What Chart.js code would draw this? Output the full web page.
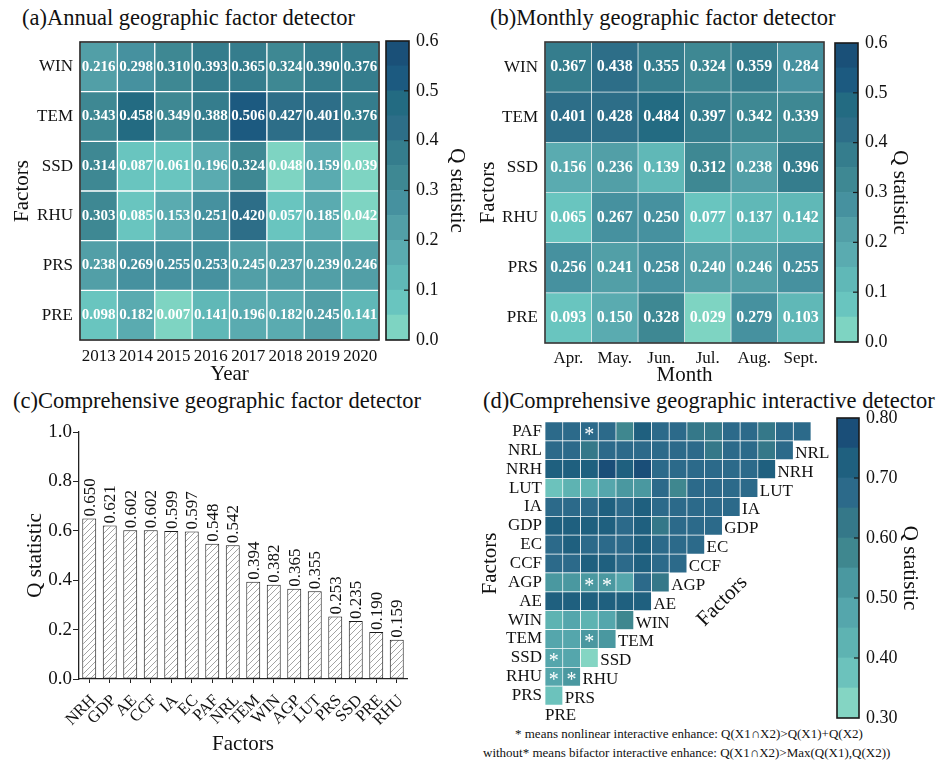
<!DOCTYPE html>
<html>
<head>
<meta charset="utf-8">
<script src="https://cdn.jsdelivr.net/npm/chart.js@4.4.1/dist/chart.umd.min.js"></script>
<style>
  body { margin: 0; background: #fff; }
  #wrap { position: relative; width: 945px; height: 762px; overflow: hidden; background: #fff;
          font-family: 'Liberation Serif', 'Times New Roman', serif; color: #111; }
  canvas { position: absolute; }
  .ttl { position: absolute; font-size: 22.5px; line-height: 1; white-space: nowrap; }
  .note { position: absolute; font-size: 13px; line-height: 1; white-space: nowrap; }
</style>
</head>
<body>
<div id="wrap">
  <div class="ttl" style="left:22px;top:7px">(a)Annual geographic factor detector</div>
  <div class="ttl" style="left:490px;top:7px">(b)Monthly geographic factor detector</div>
  <div class="ttl" style="left:13px;top:390px">(c)Comprehensive geographic factor detector</div>
  <div class="ttl" style="left:483px;top:390px">(d)Comprehensive geographic interactive detector</div>
  <div class="note" style="left:515px;top:727px">* means nonlinear interactive enhance: Q(X1∩X2)&gt;Q(X1)+Q(X2)</div>
  <div class="note" style="left:483px;top:746px">without* means bifactor interactive enhance: Q(X1∩X2)&gt;Max(Q(X1),Q(X2))</div>

  <canvas id="annualChart" style="left:0;top:30px" width="385" height="360"></canvas>
  <canvas id="annualBar" style="left:380px;top:30px" width="90" height="330"></canvas>
  <canvas id="monthlyChart" style="left:470px;top:30px" width="360" height="360"></canvas>
  <canvas id="monthlyBar" style="left:829px;top:30px" width="90" height="330"></canvas>
  <canvas id="overallChart" style="left:0;top:415px" width="470" height="347"></canvas>
  <canvas id="interChart" style="left:470px;top:400px" width="365" height="325"></canvas>
  <canvas id="interBar" style="left:831px;top:400px" width="100" height="330"></canvas>
</div>

<script>
// ---- data ----
const climateFactors = ['WIN', 'TEM', 'SSD', 'RHU', 'PRS', 'PRE'];
const years = ['2013', '2014', '2015', '2016', '2017', '2018', '2019', '2020'];
const months = ['Apr.', 'May.', 'Jun.', 'Jul.', 'Aug.', 'Sept.'];

// rows follow climateFactors, columns follow years
const annualQ = [
  [0.216, 0.298, 0.310, 0.393, 0.365, 0.324, 0.390, 0.376],
  [0.343, 0.458, 0.349, 0.388, 0.506, 0.427, 0.401, 0.376],
  [0.314, 0.087, 0.061, 0.196, 0.324, 0.048, 0.159, 0.039],
  [0.303, 0.085, 0.153, 0.251, 0.420, 0.057, 0.185, 0.042],
  [0.238, 0.269, 0.255, 0.253, 0.245, 0.237, 0.239, 0.246],
  [0.098, 0.182, 0.007, 0.141, 0.196, 0.182, 0.245, 0.141]
];

// rows follow climateFactors, columns follow months
const monthlyQ = [
  [0.367, 0.438, 0.355, 0.324, 0.359, 0.284],
  [0.401, 0.428, 0.484, 0.397, 0.342, 0.339],
  [0.156, 0.236, 0.139, 0.312, 0.238, 0.396],
  [0.065, 0.267, 0.250, 0.077, 0.137, 0.142],
  [0.256, 0.241, 0.258, 0.240, 0.246, 0.255],
  [0.093, 0.150, 0.328, 0.029, 0.279, 0.103]
];

const overallFactors = ['NRH', 'GDP', 'AE', 'CCF', 'IA', 'EC', 'PAF', 'NRL', 'TEM', 'WIN', 'AGP', 'LUT', 'PRS', 'SSD', 'PRE', 'RHU'];
const overallQ = [0.650, 0.621, 0.602, 0.602, 0.599, 0.597, 0.548, 0.542, 0.394, 0.382, 0.365, 0.355, 0.253, 0.235, 0.190, 0.159];

// interaction triangle: one row per factor, values read against interCols
const interRows = ['PAF', 'NRL', 'NRH', 'LUT', 'IA', 'GDP', 'EC', 'CCF', 'AGP', 'AE', 'WIN', 'TEM', 'SSD', 'RHU', 'PRS'];
const interCols = ['PRE', 'PRS', 'RHU', 'SSD', 'TEM', 'WIN', 'AE', 'AGP', 'CCF', 'EC', 'GDP', 'IA', 'LUT', 'NRH', 'NRL'];
const interQ = [
  [0.68, 0.67, 0.69, 0.68, 0.58, 0.72, 0.67, 0.68, 0.63, 0.62, 0.68, 0.67, 0.62, 0.67, 0.66],
  [0.67, 0.68, 0.63, 0.68, 0.67, 0.68, 0.67, 0.68, 0.67, 0.62, 0.67, 0.68, 0.62, 0.67],
  [0.72, 0.71, 0.72, 0.77, 0.72, 0.78, 0.67, 0.68, 0.67, 0.68, 0.67, 0.68, 0.72],
  [0.38, 0.43, 0.43, 0.46, 0.52, 0.52, 0.67, 0.58, 0.68, 0.67, 0.68, 0.67],
  [0.68, 0.67, 0.68, 0.72, 0.68, 0.72, 0.67, 0.68, 0.67, 0.68, 0.67],
  [0.72, 0.72, 0.72, 0.71, 0.68, 0.72, 0.62, 0.67, 0.68, 0.67],
  [0.68, 0.72, 0.67, 0.68, 0.67, 0.71, 0.68, 0.67, 0.68],
  [0.67, 0.68, 0.72, 0.72, 0.68, 0.72, 0.67, 0.68],
  [0.53, 0.53, 0.53, 0.53, 0.48, 0.67, 0.62],
  [0.72, 0.72, 0.72, 0.72, 0.72, 0.72],
  [0.42, 0.48, 0.44, 0.47, 0.57],
  [0.48, 0.47, 0.52, 0.52],
  [0.48, 0.45, 0.32],
  [0.47, 0.52],
  [0.37]
];
// nonlinear enhancement pairs (row, column)
const interStars = [['PAF', 'RHU'], ['AGP', 'RHU'], ['AGP', 'SSD'], ['TEM', 'RHU'], ['SSD', 'PRE'], ['RHU', 'PRE'], ['RHU', 'PRS']];

const climateRange = [0, 0.6];
const interRange = [0.3, 0.8];

// ---- colours ----
const climateColors = ['#7ed4c2', '#69c5bf', '#60b8b7', '#5aabb0', '#529fa7', '#46919f',
                       '#3e8893', '#357d8d', '#2d6e88', '#236b82', '#1c5a80', '#1a5078'];
const interColors = ['#84d5c3', '#6cc2bc', '#5eb3b2', '#55a6ac', '#4a98a0',
                     '#3f878f', '#357889', '#2c6a8a', '#1f607f', '#1a4e78'];

const serif = "'Liberation Serif', 'Times New Roman', serif";
Chart.defaults.font.family = serif;
Chart.defaults.color = '#111';
Chart.defaults.animation = false;
Chart.defaults.plugins.legend.display = false;
Chart.defaults.plugins.tooltip.enabled = false;

function binColor(v, range, colors) {
  const t = (v - range[0]) / (range[1] - range[0]);
  const k = Math.min(colors.length - 1, Math.max(0, Math.floor(t * colors.length)));
  return colors[k];
}

function noPad(s) {
  s.paddingLeft = 0; s.paddingRight = 0; s.paddingTop = 0; s.paddingBottom = 0;
}

function framePlugin(id, width, color, tickLen) {
  return {
    id: id,
    afterDraw(chart) {
      const {ctx, chartArea: a} = chart;
      ctx.save();
      ctx.strokeStyle = color;
      ctx.lineWidth = width;
      ctx.strokeRect(a.left, a.top, a.right - a.left, a.bottom - a.top);
      if (tickLen) {
        const ys = chart.scales.y;
        ctx.lineWidth = 1.2;
        ys.ticks.forEach(t => {
          const p = ys.getPixelForValue(t.value);
          if (p > a.top + 2 && p < a.bottom - 2) {
            ctx.beginPath();
            ctx.moveTo(a.right - tickLen, p);
            ctx.lineTo(a.right, p);
            ctx.stroke();
          }
        });
      }
      ctx.restore();
    }
  };
}

function cellTextPlugin(font, dy) {
  return {
    id: 'cellText',
    afterDatasetsDraw(chart) {
      const ctx = chart.ctx;
      ctx.save();
      ctx.fillStyle = '#fff';
      ctx.font = font;
      ctx.textAlign = 'center';
      ctx.textBaseline = 'middle';
      chart.data.datasets.forEach((ds, d) => {
        chart.getDatasetMeta(d).data.forEach((el, i) => {
          const v = ds.q[i];
          if (v == null) return;
          const p = el.getProps(['x', 'y', 'base'], true);
          ctx.fillText(v.toFixed(3), (p.x + p.base) / 2, p.y + dy);
        });
      });
      ctx.restore();
    }
  };
}

// heatmap = horizontal stacked bars of unit length, one dataset per column
function heatmap(canvasId, rows, cols, q, cfg) {
  const datasets = cols.map((c, j) => ({
    label: c,
    xAxisID: 'x',
    yAxisID: 'y',
    data: rows.map((r, i) => q[i][j] == null ? null : 1),
    q: rows.map((r, i) => q[i][j] == null ? null : q[i][j]),
    backgroundColor: rows.map((r, i) => q[i][j] == null ? 'rgba(0,0,0,0)' : binColor(q[i][j], cfg.range, cfg.colors)),
    borderColor: cfg.gapColor,
    borderWidth: cfg.gap,
    borderSkipped: false,
    barPercentage: 1,
    categoryPercentage: 1
  }));

  const scales = {
    x: { type: 'linear', stacked: true, min: 0, max: cols.length, display: false, afterFit: noPad },
    y: {
      type: 'category', stacked: true, offset: true,
      grid: { display: false, drawTicks: false },
      border: { display: false },
      ticks: { autoSkip: false, font: { size: cfg.yFont }, padding: cfg.yPad, color: '#111' },
      title: { display: true, text: 'Factors', font: { size: 21 }, padding: { top: cfg.yTitlePad, bottom: 0 } },
      afterFit: s => { noPad(s); s.width = cfg.yWidth; }
    }
  };
  if (cfg.xLabels) {
    scales.x2 = {
      type: 'category', position: 'bottom', labels: cfg.xLabels, offset: true,
      grid: { display: false, drawTicks: false },
      border: { display: false },
      ticks: { autoSkip: false, maxRotation: 0, font: { size: 17 }, padding: cfg.xPad, color: '#111' },
      title: { display: true, text: cfg.xTitle, font: { size: 21 }, padding: { top: 0, bottom: cfg.xTitlePad } },
      afterFit: s => { noPad(s); s.height = cfg.xHeight; }
    };
  }

  return new Chart(document.getElementById(canvasId), {
    type: 'bar',
    data: { labels: rows, datasets: datasets },
    options: {
      responsive: false,
      indexAxis: 'y',
      layout: { padding: cfg.padding },
      scales: scales
    },
    plugins: cfg.plugins
  });
}

function colorbar(canvasId, range, colors, step, digits, cfg) {
  const h = (range[1] - range[0]) / colors.length;
  return new Chart(document.getElementById(canvasId), {
    type: 'bar',
    data: {
      labels: [''],
      datasets: colors.map((c, i) => ({
        data: [[range[0] + i * h, range[0] + (i + 1) * h]],
        backgroundColor: c,
        borderWidth: 0,
        grouped: false,
        barPercentage: 1,
        categoryPercentage: 1
      }))
    },
    options: {
      responsive: false,
      layout: { padding: cfg.padding },
      scales: {
        x: { display: false, afterFit: noPad },
        y: {
          type: 'linear', position: 'right', min: range[0], max: range[1],
          ticks: { stepSize: step, callback: v => v.toFixed(digits), padding: 7, font: { size: 18 }, color: '#111' },
          grid: { display: false, drawTicks: false },
          border: { display: false },
          title: { display: true, text: 'Q statistic', font: { size: 21 }, padding: { top: cfg.titlePad, bottom: 0 } },
          afterFit: s => { noPad(s); s.width = cfg.axisWidth; }
        }
      }
    },
    plugins: [framePlugin('cbFrame', 1.6, '#1a1a1a', 5)]
  });
}

// ---- (a) annual ----
heatmap('annualChart', climateFactors, years, annualQ, {
  range: climateRange, colors: climateColors, gapColor: '#ffffff', gap: 1,
  yFont: 17, yPad: 7, yTitlePad: 10, yWidth: 80,
  xLabels: years, xTitle: 'Year', xPad: 6, xTitlePad: 3, xHeight: 50,
  padding: { left: 0, top: 12, right: 6, bottom: 0 },
  plugins: [cellTextPlugin('bold 15px ' + serif, 0), framePlugin('hmFrame', 1.6, '#222', 0)]
});
colorbar('annualBar', climateRange, climateColors, 0.1, 1, {
  padding: { left: 6, top: 11, right: 0, bottom: 20 }, axisWidth: 61, titlePad: 1
});

// ---- (b) monthly ----
heatmap('monthlyChart', climateFactors, months, monthlyQ, {
  range: climateRange, colors: climateColors, gapColor: '#e3ecee', gap: 0.7,
  yFont: 17, yPad: 7, yTitlePad: 6, yWidth: 75,
  xLabels: months, xTitle: 'Month', xPad: 5, xTitlePad: 2, xHeight: 47,
  padding: { left: 0, top: 12, right: 6, bottom: 0 },
  plugins: [cellTextPlugin('bold 16px ' + serif, 0), framePlugin('hmFrame', 1.6, '#333', 0)]
});
colorbar('monthlyBar', climateRange, climateColors, 0.1, 1, {
  padding: { left: 6, top: 13, right: 0, bottom: 18 }, axisWidth: 61, titlePad: 7
});

// ---- (c) overall factor detector ----
function hatch() {
  const c = document.createElement('canvas');
  c.width = 6; c.height = 6;
  const g = c.getContext('2d');
  g.fillStyle = '#ffffff';
  g.fillRect(0, 0, 6, 6);
  g.strokeStyle = '#8c8c8c';
  g.lineWidth = 0.8;
  g.beginPath();
  g.moveTo(0, 6); g.lineTo(6, 0);
  g.moveTo(-1, 1); g.lineTo(1, -1);
  g.moveTo(5, 7); g.lineTo(7, 5);
  g.stroke();
  return g.createPattern(c, 'repeat');
}

const barValues = {
  id: 'barValues',
  afterDatasetsDraw(chart) {
    const ctx = chart.ctx;
    const vals = chart.data.datasets[0].data;
    ctx.save();
    ctx.font = '17px ' + serif;
    ctx.fillStyle = '#111';
    ctx.textAlign = 'left';
    ctx.textBaseline = 'middle';
    chart.getDatasetMeta(0).data.forEach((el, i) => {
      const p = el.getProps(['x', 'y'], true);
      ctx.save();
      ctx.translate(p.x + 1, p.y - 2);
      ctx.rotate(-Math.PI / 2);
      ctx.fillText(vals[i].toFixed(3), 0, 0);
      ctx.restore();
    });
    ctx.restore();
  }
};

new Chart(document.getElementById('overallChart'), {
  type: 'bar',
  data: {
    labels: overallFactors,
    datasets: [{
      data: overallQ,
      backgroundColor: hatch(),
      borderColor: '#1a1a1a',
      borderWidth: 1,
      borderSkipped: false,
      barPercentage: 0.68,
      categoryPercentage: 1
    }]
  },
  options: {
    responsive: false,
    layout: { padding: { left: 0, top: 17, right: 63, bottom: 0 } },
    scales: {
      x: {
        grid: { display: true, drawOnChartArea: false, tickLength: 4, color: '#222', offset: false },
        border: { color: '#222', width: 1.3 },
        ticks: { autoSkip: false, minRotation: 45, maxRotation: 45, labelOffset: 4, font: { size: 16.5 }, padding: 8, color: '#111' },
        title: { display: true, text: 'Factors', font: { size: 21 }, padding: { top: 0, bottom: 5 } },
        afterFit: s => { noPad(s); s.height = 83; }
      },
      y: {
        min: 0, max: 1,
        ticks: { stepSize: 0.1, callback: (v, i) => (i % 2 === 0 ? v.toFixed(1) : ''), font: { size: 19 }, padding: 1, color: '#111' },
        grid: { drawOnChartArea: false, tickLength: 6, color: '#222' },
        border: { color: '#222', width: 1.3 },
        title: { display: true, text: 'Q statistic', font: { size: 21 }, padding: { top: 23, bottom: 0 } },
        afterFit: s => { noPad(s); s.width = 79; }
      }
    }
  },
  plugins: [barValues]
});

// ---- (d) interaction detector ----
const interExtras = {
  id: 'interExtras',
  afterDatasetsDraw(chart) {
    const {ctx, chartArea} = chart;
    const xs = chart.scales.x, ys = chart.scales.y;
    ctx.save();
    // stars
    ctx.fillStyle = '#ffffff';
    ctx.font = '20px ' + serif;
    ctx.textAlign = 'center';
    ctx.textBaseline = 'middle';
    interStars.forEach(([r, c]) => {
      const i = interRows.indexOf(r), j = interCols.indexOf(c);
      ctx.fillText('*', xs.getPixelForValue(j + 0.5), ys.getPixelForValue(i) + 4);
    });
    // column names along the diagonal
    ctx.fillStyle = '#111';
    ctx.font = '17px ' + serif;
    ctx.textAlign = 'left';
    interRows.forEach((r, i) => {
      const n = interQ[i].length;
      if (n >= interCols.length) return;
      ctx.fillText(interCols[n], xs.getPixelForValue(n) + 2, ys.getPixelForValue(i) + 3);
    });
    ctx.textBaseline = 'top';
    ctx.fillText(interCols[0], xs.getPixelForValue(0), chartArea.bottom + 2);
    // diagonal axis title
    ctx.translate(xs.getPixelForValue(10), ys.getPixelForValue(interRows.indexOf('AE')));
    ctx.rotate(-Math.PI / 4);
    ctx.font = '21px ' + serif;
    ctx.textAlign = 'center';
    ctx.textBaseline = 'middle';
    ctx.fillText('Factors', 0, 0);
    ctx.restore();
  }
};

heatmap('interChart', interRows, interCols, interQ, {
  range: interRange, colors: interColors, gapColor: '#ffffff', gap: 0.7,
  yFont: 17, yPad: 3, yTitlePad: 8, yWidth: 75,
  padding: { left: 0, top: 22, right: 24, bottom: 20 },
  plugins: [interExtras]
});
colorbar('interBar', interRange, interColors, 0.1, 2, {
  padding: { left: 6, top: 18, right: 0, bottom: 12 }, axisWidth: 72, titlePad: 9
});
</script>
</body>
</html>
